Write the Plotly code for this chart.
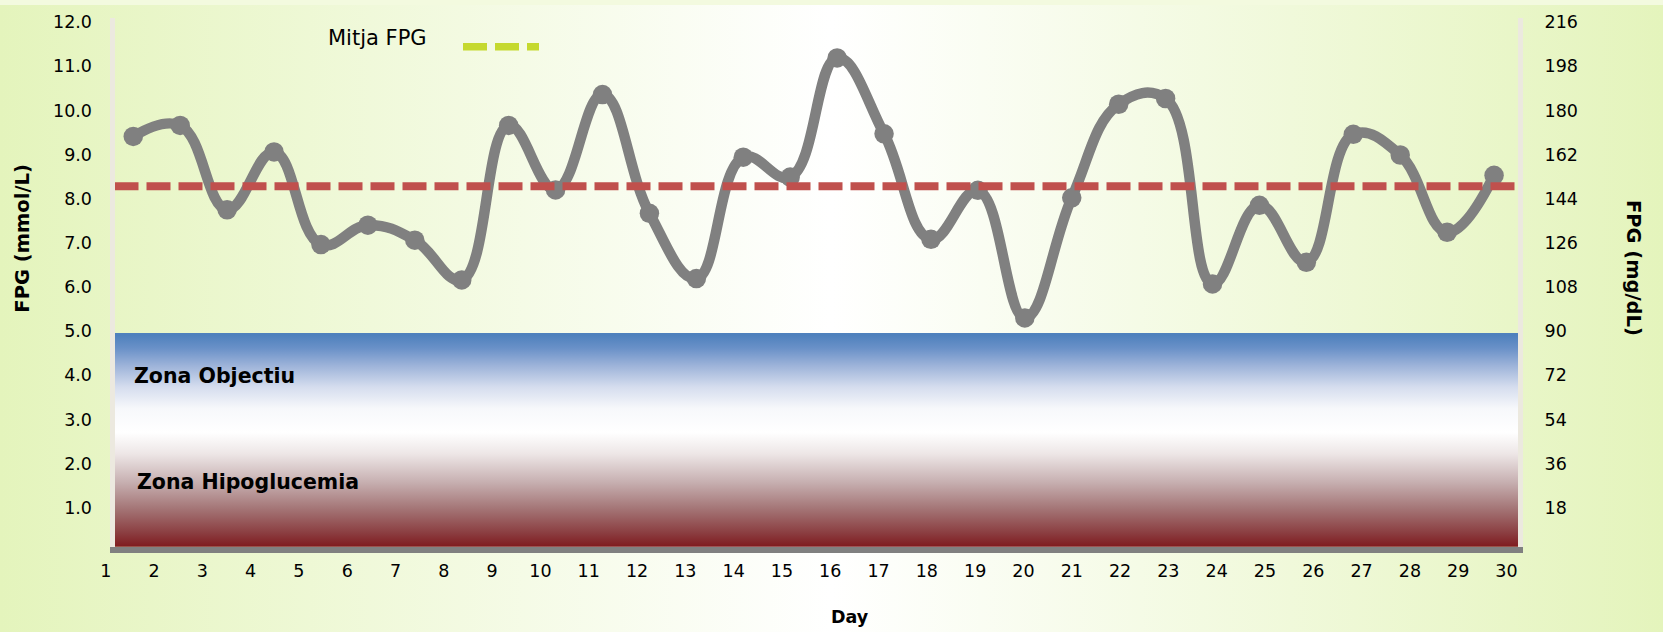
import base64
import plotly.graph_objects as go

# ---------------- data ----------------
DAYS = list(range(1, 31))
FPG_MMOL = [9.41, 9.66, 7.75, 9.06, 6.96, 7.40, 7.06, 6.16, 9.66, 8.20,
            10.36, 7.67, 6.19, 8.94, 8.49, 11.19, 9.47, 7.08, 8.19, 5.30,
            8.02, 10.14, 10.27, 6.07, 7.85, 6.56, 9.46, 8.99, 7.24, 8.53]
MEAN_FPG = 8.28
ZONE_TOP = 4.96
MGDL_PER_MMOL = 18
Y_TICKS_MMOL = [1.0, 2.0, 3.0, 4.0, 5.0, 6.0, 7.0, 8.0, 9.0, 10.0, 11.0, 12.0]
Y_TICKS_MGDL = [18, 36, 54, 72, 90, 108, 126, 144, 162, 180, 198, 216]
ZONE_LABELS = ["Zona Objectiu", "Zona Hipoglucemia"]
ZONE_LABEL_Y = [3.98, 1.58]

# ---------------- layout geometry (pixels) ----------------
W, H = 1663, 632
PLOT_L, PLOT_R = 114.5, 1518.0
PLOT_B, PLOT_T = 546.0, 12.7
LBL_FIRST, LBL_LAST = 105.7, 1506.5
X_RANGE = [0.6, 30.51]
Y_RANGE = [0.117, 12.103]

FONT = "DejaVu Sans"
TXT = "#000000"

lbl_step = (LBL_LAST - LBL_FIRST) / (DAYS[-1] - DAYS[0])
pad = 12
X2_RANGE = [DAYS[0] - pad / lbl_step, DAYS[-1] + pad / lbl_step]

ZONE_SCALE = [
    [0.0, "#7C1014"], [0.08, "#8A3C3F"], [0.2, "#A57778"], [0.32, "#C7B0B1"],
    [0.45, "#EDE6E6"], [0.55, "#FFFFFF"], [0.66, "#F7F8FB"], [0.76, "#D5DDEE"],
    [0.86, "#9DB3D9"], [0.94, "#6A91C8"], [1.0, "#4F81BD"],
]

svg = (
    f'<svg xmlns="http://www.w3.org/2000/svg" width="{W}" height="{H}" '
    f'preserveAspectRatio="none"><defs><linearGradient id="g" x1="0" y1="0" x2="1" y2="0">'
    '<stop offset="0" stop-color="#E4F4BC"/><stop offset="0.5" stop-color="#FFFFFF"/>'
    '<stop offset="1" stop-color="#E4F4BC"/></linearGradient></defs>'
    f'<rect width="{W}" height="{H}" fill="url(#g)"/></svg>'
)
bg_uri = "data:image/svg+xml;base64," + base64.b64encode(svg.encode()).decode()

fig = go.Figure()

# target / hypoglycemia zone
fig.add_trace(go.Scatter(
    x=X_RANGE, y=[ZONE_TOP, ZONE_TOP], mode="lines", fill="tozeroy",
    line=dict(width=0, color="rgba(0,0,0,0)"),
    fillgradient=dict(type="vertical", colorscale=ZONE_SCALE,
                      start=Y_RANGE[0], stop=ZONE_TOP),
    hoverinfo="skip", showlegend=False,
))

# FPG series
fig.add_trace(go.Scatter(
    x=DAYS, y=FPG_MMOL, mode="lines+markers",
    line=dict(color="#808080", width=10.5, shape="spline", smoothing=1.2),
    marker=dict(color="#808080", size=19.5),
    showlegend=False, name="FPG",
))

# mean line
fig.add_trace(go.Scatter(
    x=X_RANGE, y=[MEAN_FPG, MEAN_FPG], mode="lines",
    line=dict(color="#C0504D", width=8, dash="24px,8px"),
    showlegend=False, name="Mitja FPG", hoverinfo="skip",
))

# helper (invisible) traces so the label axis and the mg/dL axis are drawn
fig.add_trace(go.Scatter(
    x=DAYS, y=FPG_MMOL, xaxis="x2", yaxis="y", mode="markers",
    marker=dict(opacity=0), hoverinfo="skip", showlegend=False,
))
fig.add_trace(go.Scatter(
    x=DAYS, y=[v * MGDL_PER_MMOL for v in FPG_MMOL], xaxis="x", yaxis="y2",
    mode="markers", marker=dict(opacity=0), hoverinfo="skip", showlegend=False,
))

tickfont = dict(family=FONT, size=17.5, color=TXT)

fig.update_layout(
    width=W, height=H,
    margin=dict(l=0, r=0, t=0, b=0),
    paper_bgcolor="#F3FADF",
    plot_bgcolor="rgba(0,0,0,0)",
    showlegend=False,
    images=[dict(source=bg_uri, xref="paper", yref="paper", x=0, y=1,
                 sizex=1, sizey=1, xanchor="left", yanchor="top",
                 sizing="stretch", layer="below")],
    xaxis=dict(
        domain=[PLOT_L / W, PLOT_R / W], range=X_RANGE, anchor="y",
        showticklabels=False, ticks="", showgrid=False, zeroline=False,
        showline=True, linecolor="#808080", linewidth=5.5,
    ),
    xaxis2=dict(
        domain=[(LBL_FIRST - pad) / W, (LBL_LAST + pad) / W], range=X2_RANGE,
        anchor="y", tickvals=DAYS, ticktext=[str(d) for d in DAYS],
        tickfont=tickfont, ticks="", showgrid=False, zeroline=False,
        showline=False, ticklabelstandoff=12,
    ),
    yaxis=dict(
        domain=[(H - PLOT_B) / H, (H - PLOT_T) / H], range=Y_RANGE, anchor="x",
        tickvals=Y_TICKS_MMOL, ticktext=[f"{v:.1f}" for v in Y_TICKS_MMOL],
        tickfont=tickfont, ticks="", showgrid=False, zeroline=False,
        showline=True, linecolor="#ECE9DF", linewidth=5, ticklabelstandoff=14,
    ),
    yaxis2=dict(
        overlaying="y", side="right", anchor="x",
        range=[r * MGDL_PER_MMOL for r in Y_RANGE],
        tickvals=Y_TICKS_MGDL, ticktext=[str(v) for v in Y_TICKS_MGDL],
        tickfont=tickfont, ticks="", showgrid=False, zeroline=False,
        showline=True, linecolor="#ECE9DF", linewidth=5, ticklabelstandoff=18,
    ),
)

annotations = [
    dict(text="<b>FPG (mmol/L)</b>", x=23 / W, y=(H - 235.5) / H, xref="paper",
         yref="paper", xanchor="center", yanchor="middle", textangle=-90,
         showarrow=False, font=dict(family=FONT, size=19.5, color=TXT)),
    dict(text="<b>FPG (mg/dL)</b>", x=1633 / W, y=(H - 265) / H, xref="paper",
         yref="paper", xanchor="center", yanchor="middle", textangle=90,
         showarrow=False, font=dict(family=FONT, size=19.5, color=TXT)),
    dict(text="<b>Day</b>", x=849.5 / W, y=(H - 617) / H, xref="paper",
         yref="paper", xanchor="center", yanchor="middle", showarrow=False,
         font=dict(family=FONT, size=17.5, color=TXT)),
    dict(text="Mitja FPG", x=326 / W, y=(H - 33) / H, xref="paper", yref="paper",
         xanchor="left", yanchor="middle", showarrow=False,
         font=dict(family=FONT, size=21, color=TXT)),
]
for name, yv, xl in zip(ZONE_LABELS, ZONE_LABEL_Y, [132, 135]):
    annotations.append(dict(
        text=f"<b>{name}</b>", x=xl / W, y=yv, xref="paper", yref="y",
        xanchor="left", yanchor="middle", showarrow=False,
        font=dict(family=FONT, size=20.5, color=TXT)))
fig.update_layout(annotations=annotations)

# legend key for the mean line
fig.add_shape(type="line", xref="paper", yref="paper",
              x0=463 / W, x1=539 / W, y0=(H - 42) / H, y1=(H - 42) / H,
              line=dict(color="#C5D92F", width=7.5, dash="24px,8px"))

fig.write_html("out.html")
